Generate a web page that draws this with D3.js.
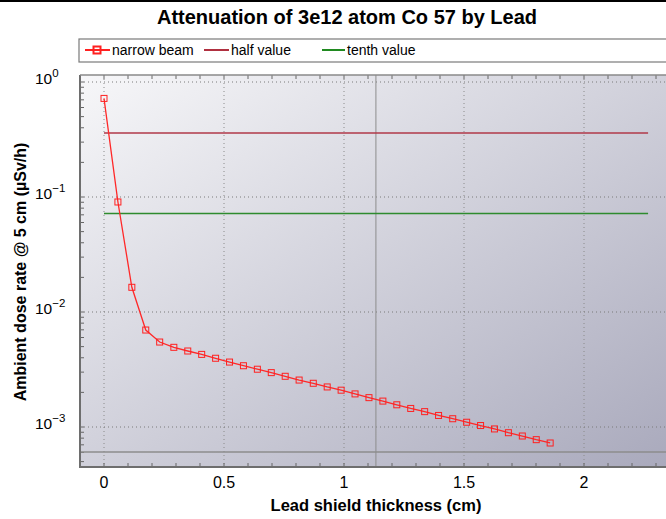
<!DOCTYPE html>
<html>
<head>
<meta charset="utf-8">
<script src="https://cdn.jsdelivr.net/npm/d3@7"></script>
<style>
  body { margin: 0; background: #fff; }
  svg { display: block; font-family: "Liberation Sans", Arial, sans-serif; }
</style>
</head>
<body>
<div id="chart"></div>
<script>
// Chart data
const thickness = [0, 0.058, 0.116, 0.174, 0.232, 0.291, 0.349, 0.407, 0.465, 0.523,
  0.581, 0.639, 0.697, 0.755, 0.813, 0.872, 0.930, 0.988, 1.046, 1.104, 1.162,
  1.220, 1.278, 1.336, 1.394, 1.453, 1.511, 1.569, 1.627, 1.685, 1.743, 1.801, 1.859];
const doseRate = [0.72, 0.0905, 0.0164, 0.00697, 0.00548, 0.00493, 0.00458, 0.00428,
  0.00396, 0.00367, 0.00341, 0.00318, 0.00297, 0.00276, 0.00256, 0.00240, 0.00223,
  0.00209, 0.00194, 0.00180, 0.00168, 0.00156, 0.00145, 0.00136, 0.00126, 0.00118,
  0.00110, 0.00103, 0.000962, 0.000892, 0.000835, 0.000776, 0.000726];
const halfValue = 0.36;
const tenthValue = 0.072;
const refLineX = [0, 2.267];
const cursorX = 1.133;
const cursorY = 0.000606;
const xTicks = [0, 0.5, 1, 1.5, 2];
const yTicks = [-3, -2, -1, 0];  // exponents
const legendItems = ['narrow beam', 'half value', 'tenth value'];

const width = 666, height = 519;
const plot = {left: 80, right: 672, top: 75, bottom: 467};

const svg = d3.select('#chart').append('svg')
  .attr('width', width).attr('height', height);

const defs = svg.append('defs');
const grad = defs.append('linearGradient').attr('id', 'bg')
  .attr('x1', '0%').attr('y1', '0%').attr('x2', '100%').attr('y2', '100%');
grad.append('stop').attr('offset', '0%').attr('stop-color', '#f7f7f9');
grad.append('stop').attr('offset', '100%').attr('stop-color', '#a9a9bc');
defs.append('clipPath').attr('id', 'clip').append('rect')
  .attr('x', plot.left).attr('y', plot.top)
  .attr('width', plot.right - plot.left).attr('height', plot.bottom - plot.top);

const x = d3.scaleLinear().domain([0, 1]).range([104, 344]);
const y = d3.scaleLog().domain([1, 0.001]).range([82, 427]);

// window edge on top
svg.append('rect').attr('x', 0).attr('y', 0).attr('width', width).attr('height', 2).attr('fill', '#000');

// title
svg.append('text').attr('x', 347).attr('y', 24).attr('text-anchor', 'middle')
  .attr('font-weight', 'bold').attr('font-size', 20).text('Attenuation of 3e12 atom Co 57 by Lead');

// legend box
svg.append('rect').attr('x', 79).attr('y', 39).attr('width', 640).attr('height', 23)
  .attr('fill', '#fff').attr('stroke', '#7a7a7a').attr('stroke-width', 1.2);
const lg = svg.append('g').attr('font-size', 14);
lg.append('line').attr('x1', 85).attr('x2', 110).attr('y1', 50).attr('y2', 50).attr('stroke', '#ff2020').attr('stroke-width', 2);
lg.append('rect').attr('x', 93.5).attr('y', 46.5).attr('width', 7).attr('height', 7)
  .attr('fill', 'none').attr('stroke', '#ff2020').attr('stroke-width', 2);
lg.append('text').attr('x', 112).attr('y', 55).text(legendItems[0]);
lg.append('line').attr('x1', 204).attr('x2', 229).attr('y1', 50).attr('y2', 50).attr('stroke', '#b03040').attr('stroke-width', 2);
lg.append('text').attr('x', 231).attr('y', 55).text(legendItems[1]);
lg.append('line').attr('x1', 322).attr('x2', 345).attr('y1', 50).attr('y2', 50).attr('stroke', '#208a20').attr('stroke-width', 2);
lg.append('text').attr('x', 347).attr('y', 55).text(legendItems[2]);

// plot background
svg.append('rect').attr('x', plot.left).attr('y', plot.top)
  .attr('width', plot.right - plot.left).attr('height', plot.bottom - plot.top)
  .attr('fill', 'url(#bg)');

const g = svg.append('g').attr('clip-path', 'url(#clip)');

// grid
g.selectAll('.vgrid').data(xTicks).enter().append('line')
  .attr('x1', d => x(d)).attr('x2', d => x(d)).attr('y1', plot.top).attr('y2', plot.bottom)
  .attr('stroke', '#8a8a8a').attr('stroke-dasharray', '1,3');
g.selectAll('.hgrid').data(yTicks).enter().append('line')
  .attr('x1', plot.left).attr('x2', plot.right)
  .attr('y1', d => y(Math.pow(10, d))).attr('y2', d => y(Math.pow(10, d)))
  .attr('stroke', '#7a7a7a').attr('stroke-dasharray', '1,3');

// minor ticks
const xMinor = d3.range(-1, 24).map(i => i / 10);
g.selectAll('.xtb').data(xMinor).enter().append('line')
  .attr('x1', d => x(d)).attr('x2', d => x(d)).attr('y1', plot.bottom).attr('y2', plot.bottom - 4)
  .attr('stroke', '#666');
g.selectAll('.xtt').data(xMinor).enter().append('line')
  .attr('x1', d => x(d)).attr('x2', d => x(d)).attr('y1', plot.top).attr('y2', plot.top + 4)
  .attr('stroke', '#666');
const yMinor = [];
[-4, -3, -2, -1, 0].forEach(e => { for (let m = 1; m < 10; m++) yMinor.push(m * Math.pow(10, e)); });
g.selectAll('.ytl').data(yMinor).enter().append('line')
  .attr('x1', plot.left).attr('x2', plot.left + 4)
  .attr('y1', d => y(d)).attr('y2', d => y(d))
  .attr('stroke', '#666');

// cursor lines
g.append('line').attr('x1', x(cursorX)).attr('x2', x(cursorX)).attr('y1', plot.top).attr('y2', plot.bottom)
  .attr('stroke', '#8c8c8c').attr('stroke-width', 1);
g.append('line').attr('x1', plot.left).attr('x2', plot.right).attr('y1', y(cursorY)).attr('y2', y(cursorY))
  .attr('stroke', '#8c8c8c').attr('stroke-width', 1.5);

// reference lines
g.append('line').attr('x1', x(refLineX[0])).attr('x2', x(refLineX[1]))
  .attr('y1', y(halfValue)).attr('y2', y(halfValue)).attr('stroke', '#b03848').attr('stroke-width', 1.5);
g.append('line').attr('x1', x(refLineX[0])).attr('x2', x(refLineX[1]))
  .attr('y1', y(tenthValue)).attr('y2', y(tenthValue)).attr('stroke', '#2e8b2e').attr('stroke-width', 1.5);

// data
const pts = thickness.map((t, i) => [t, doseRate[i]]);
g.append('path').datum(pts)
  .attr('d', d3.line().x(d => x(d[0])).y(d => y(d[1])))
  .attr('fill', 'none').attr('stroke', '#ff2828').attr('stroke-width', 1.3);
g.selectAll('.pt').data(pts).enter().append('rect')
  .attr('x', d => x(d[0]) - 3).attr('y', d => y(d[1]) - 3)
  .attr('width', 6).attr('height', 6)
  .attr('fill', 'none').attr('stroke', '#ff2020').attr('stroke-width', 1);

// axis frame lines
svg.append('line').attr('x1', plot.left).attr('x2', plot.left).attr('y1', plot.top).attr('y2', plot.bottom + 1)
  .attr('stroke', '#6e6e6e').attr('stroke-width', 2);
svg.append('line').attr('x1', plot.left).attr('x2', plot.right).attr('y1', plot.bottom).attr('y2', plot.bottom)
  .attr('stroke', '#6e6e6e').attr('stroke-width', 2);
svg.append('line').attr('x1', plot.left).attr('x2', plot.right).attr('y1', plot.top).attr('y2', plot.top)
  .attr('stroke', '#8a8a8a').attr('stroke-width', 1.5);

// x tick labels
svg.selectAll('.xl').data(xTicks).enter().append('text')
  .attr('x', d => x(d)).attr('y', 488).attr('text-anchor', 'middle')
  .attr('font-size', 16).text(d => d3.format('')(d));

// y tick labels
const yl = svg.selectAll('.yl').data(yTicks).enter().append('text')
  .attr('x', 35).attr('y', d => y(Math.pow(10, d)) + 2).attr('font-size', 15.5);
yl.append('tspan').text('10');
yl.append('tspan').attr('dy', -7).attr('font-size', 11.5).text(d => d === 0 ? '0' : '\u2212' + (-d));

// axis titles
svg.append('text').attr('x', 376).attr('y', 511).attr('text-anchor', 'middle')
  .attr('font-weight', 'bold').attr('font-size', 16.5).text('Lead shield thickness (cm)');
svg.append('text').attr('transform', 'translate(26,272) rotate(-90)').attr('text-anchor', 'middle')
  .attr('font-weight', 'bold').attr('font-size', 16).text('Ambient dose rate @ 5 cm (µSv/h)');
</script>
</body>
</html>
